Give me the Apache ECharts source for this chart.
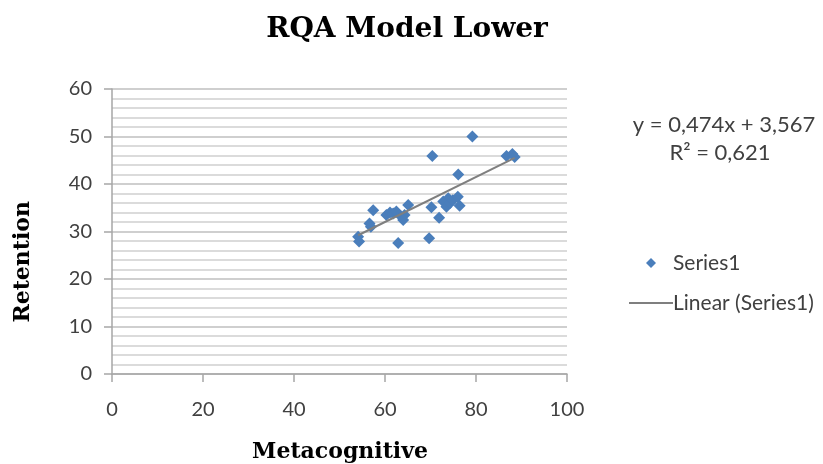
<!DOCTYPE html>
<html>
<head>
<meta charset="utf-8">
<title>RQA Model Lower</title>
<script src="https://cdn.jsdelivr.net/npm/echarts@6/dist/echarts.min.js"></script>
<style>
  html, body { margin: 0; padding: 0; background: #fff; }
  #chart { width: 823px; height: 464px; }
</style>
</head>
<body>
<div id="chart"></div>
<script>
// values
const metacognitive = [54.1, 54.3, 56.6, 56.9, 57.4, 60.3, 61.1, 61.8, 62.5, 63.6, 64.3, 65.1, 64.0, 62.9, 69.7,
  70.2, 70.4, 71.9, 72.8, 73.5, 73.9, 74.3, 74.9, 76.0, 76.4, 76.1, 79.2, 86.7, 88.0, 88.5]
const retention = [28.9, 27.9, 31.7, 31.0, 34.5, 33.5, 34.0, 33.8, 34.2, 33.1, 33.5, 35.6, 32.4, 27.6, 28.6,
  35.1, 45.9, 32.9, 36.3, 35.2, 37.0, 36.0, 36.6, 37.3, 35.4, 42.0, 50.0, 45.9, 46.3, 45.7]
const slope = 0.474
const intercept = 3.567
const equationLines = ['y = 0,474x + 3,567', 'R\u00b2 = 0,621']
const xTicks = [0, 20, 40, 60, 80, 100]
const yTicks = [0, 10, 20, 30, 40, 50, 60]

const points = metacognitive.map((x, i) => [x, retention[i]])
const xMin = Math.min(...metacognitive)
const xMax = Math.max(...metacognitive)
const trend = [xMin, xMax].map(x => [x, slope * x + intercept])

const labelFont = {fontFamily: 'Lato', fontSize: 20, color: '#404040'}
const serifBold = {fontFamily: 'DejaVu Serif', fontWeight: 'bold', fill: '#000'}
const noteStyle = {fontFamily: 'Lato', fontSize: 22, fill: '#404040', align: 'center', verticalAlign: 'middle'}

const myChart = echarts.init(document.getElementById('chart'))
myChart.setOption({
  animation: false,
  title: {
    text: 'RQA Model Lower',
    left: 402,
    textAlign: 'center',
    top: 11,
    textStyle: {fontFamily: 'DejaVu Serif', fontWeight: 'bold', fontSize: 28, color: '#000'}
  },
  grid: {left: 112, right: 256, top: 89, bottom: 90, containLabel: false},
  xAxis: {
    type: 'value',
    min: xTicks[0],
    max: xTicks[xTicks.length - 1],
    interval: 20,
    axisLine: {lineStyle: {color: '#a6a6a6', width: 1.5}},
    axisTick: {show: true, length: 8, lineStyle: {color: '#a6a6a6', width: 1.5}},
    axisLabel: {...labelFont, margin: 26},
    splitLine: {show: false}
  },
  yAxis: {
    type: 'value',
    min: yTicks[0],
    max: yTicks[yTicks.length - 1],
    interval: 10,
    axisLine: {show: true, lineStyle: {color: '#a6a6a6', width: 1.5}},
    axisTick: {show: true, length: 8, lineStyle: {color: '#a6a6a6', width: 1.5}},
    axisLabel: {...labelFont, margin: 20},
    splitLine: {lineStyle: {color: '#bfbfbf', width: 1.5}},
    minorTick: {show: false, splitNumber: 5},
    minorSplitLine: {show: true, lineStyle: {color: '#d0d0d0', width: 1.5}}
  },
  legend: {
    orient: 'vertical',
    left: 624,
    top: 247,
    itemWidth: 44,
    itemHeight: 10,
    itemGap: 18,
    textStyle: {fontFamily: 'Lato', fontSize: 21, color: '#404040', lineHeight: 22, padding: [0, 0, 0, -5]},
    data: [
      {name: 'Series1', icon: 'path://M5,0 L10,5 L5,10 L0,5 Z', itemStyle: {color: '#4a7ebb'}},
      {name: 'Linear (Series1)', icon: 'path://M0,0 L44,0 L44,2 L0,2 Z', itemStyle: {color: '#7f7f7f'}}
    ]
  },
  graphic: [
    {
      type: 'text',
      left: 12,
      top: 201,
      rotation: Math.PI / 2,
      style: {...serifBold, text: 'Retention', fontSize: 22}
    },
    {
      type: 'text',
      x: 340,
      y: 452,
      style: {...serifBold, text: 'Metacognitive', fontSize: 22, align: 'center', verticalAlign: 'middle'}
    },
    {type: 'text', x: 724, y: 125, style: {...noteStyle, text: equationLines[0]}},
    {type: 'text', x: 720, y: 153, style: {...noteStyle, text: equationLines[1]}}
  ],
  series: [
    {
      name: 'Series1',
      type: 'scatter',
      symbol: 'diamond',
      symbolSize: 12,
      itemStyle: {color: '#4a7ebb', opacity: 1},
      data: points,
      z: 3
    },
    {
      name: 'Linear (Series1)',
      type: 'line',
      symbol: 'none',
      lineStyle: {color: '#7f7f7f', width: 2},
      itemStyle: {color: '#7f7f7f'},
      data: trend,
      z: 4
    }
  ]
})
</script>
</body>
</html>
